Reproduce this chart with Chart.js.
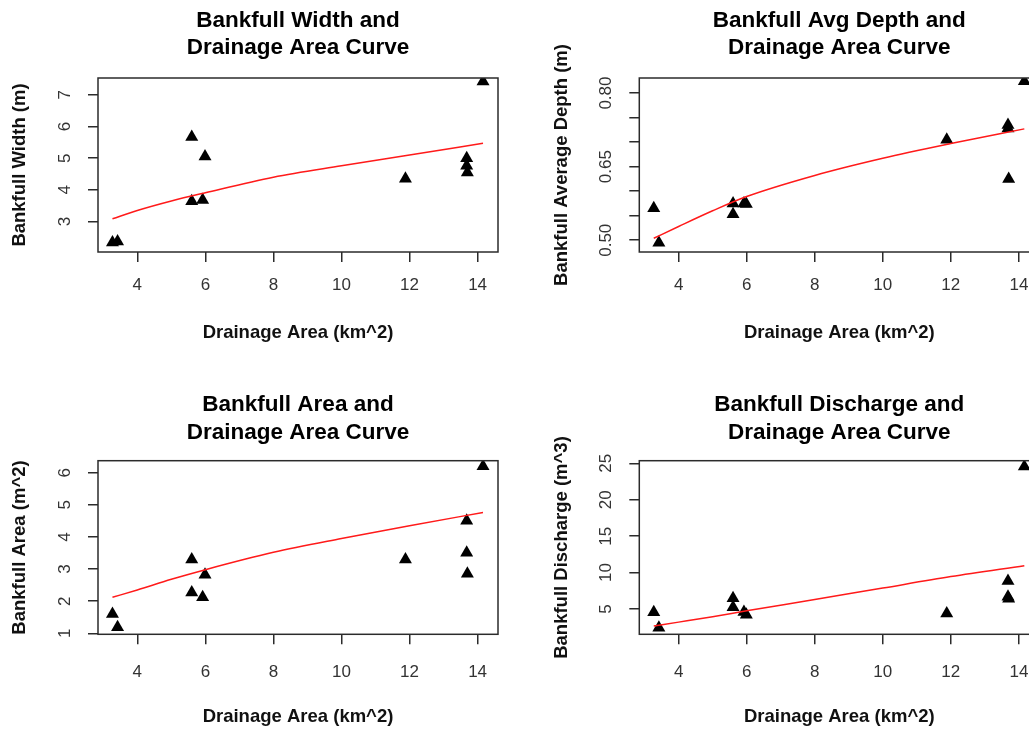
<!DOCTYPE html>
<html>
<head>
<meta charset="utf-8">
<script src="https://cdn.jsdelivr.net/npm/chart.js@4/dist/chart.umd.min.js"></script>
<style>
  html, body { margin: 0; padding: 0; background: #fff; }
  body { width: 1029px; height: 730px; overflow: hidden; position: relative; }
  canvas { position: absolute; }
</style>
</head>
<body>
<canvas id="widthChart" width="514" height="365" style="left:0;top:0"></canvas>
<canvas id="depthChart" width="540" height="365" style="left:514px;top:0"></canvas>
<canvas id="areaChart" width="514" height="360" style="left:0;top:370px"></canvas>
<canvas id="dischargeChart" width="540" height="360" style="left:514px;top:370px"></canvas>
<script>
// measured sites (drainage area in km^2)
const drainageArea = [3.27, 3.42, 5.6, 5.6, 5.92, 5.99, 11.88, 13.68, 13.68, 13.7, 14.16];
const bankfullWidth = [2.34, 2.37, 5.67, 3.64, 3.68, 5.05, 4.35, 5.0, 4.76, 4.55, 7.42];
const bankfullDepth = [0.565, 0.495, 0.575, 0.553, 0.575, 0.574, 0.705, 0.735, 0.728, 0.625, 0.824];
const bankfullArea = [1.6, 1.19, 3.3, 2.27, 2.12, 2.82, 3.3, 4.5, 3.51, 2.85, 6.2];
const bankfullDischarge = [4.55, 2.43, 6.47, 5.23, 4.6, 4.2, 4.4, 8.85, 6.69, 6.4, 24.55];

// fitted regional curves
const curveArea = [3.27, 4, 5, 6, 8, 10, 12, 14.16];
const widthCurve = [3.09, 3.35, 3.65, 3.91, 4.4, 4.76, 5.1, 5.47];
const depthCurve = [0.504, 0.528, 0.56, 0.589, 0.632, 0.667, 0.697, 0.727];
const areaCurve = [2.12, 2.35, 2.68, 2.98, 3.52, 3.95, 4.35, 4.76];
const dischargeCurve = [2.66, 3.2, 3.95, 4.75, 6.3, 7.88, 9.45, 10.95];

const xTicks = [4, 6, 8, 10, 12, 14];
const widthTicks = [3, 4, 5, 6, 7];
const depthTicks = [0.5, 0.55, 0.6, 0.65, 0.7, 0.75, 0.8];
const depthTickLabels = ['0.50', '', '', '0.65', '', '', '0.80'];
const areaTicks = [1, 2, 3, 4, 5, 6];
const dischargeTicks = [5, 10, 15, 20, 25];

const FONT = '"Liberation Sans", Arial, sans-serif';
const INK = '#2b2b2b';
Chart.defaults.font.family = FONT;
Chart.defaults.animation = false;

function framePlugin(titleLines, baselines, yLabels) {
  return {
    id: 'rframe',
    afterDatasetsDraw(chart) {
      const a = chart.chartArea;
      const ctx = chart.ctx;
      ctx.save();
      ctx.strokeStyle = INK;
      ctx.lineWidth = 1.5;
      ctx.strokeRect(a.left, a.top, a.right - a.left, a.bottom - a.top);
      ctx.restore();
    },
    afterDraw(chart) {
      const a = chart.chartArea;
      const ctx = chart.ctx;
      const cx = (a.left + a.right) / 2;
      ctx.save();
      ctx.fillStyle = '#000';
      ctx.font = 'bold 22.5px ' + FONT;
      ctx.textAlign = 'center';
      ctx.textBaseline = 'alphabetic';
      titleLines.forEach((t, i) => ctx.fillText(t, cx, baselines[i]));

      // y tick labels run along the axis, like R's default las=0
      const y = chart.scales.y;
      ctx.fillStyle = '#333';
      ctx.font = '17px ' + FONT;
      ctx.textBaseline = 'middle';
      y.ticks.forEach((t, i) => {
        const label = yLabels[i];
        if (!label) return;
        ctx.save();
        ctx.translate(a.left - 33, y.getPixelForValue(t.value));
        ctx.rotate(-Math.PI / 2);
        ctx.fillText(label, 0, 0);
        ctx.restore();
      });
      ctx.restore();
    }
  };
}

function makePanel(id, cfg) {
  const points = drainageArea.map((x, i) => ({ x, y: cfg.values[i] }));
  const curve = curveArea.map((x, i) => ({ x, y: cfg.curve[i] }));
  const canvas = document.getElementById(id);
  const H = canvas.height;
  return new Chart(canvas, {
    type: 'scatter',
    data: {
      datasets: [
        {
          data: curve, showLine: true, borderColor: '#ff1a1a', borderWidth: 1.5,
          pointRadius: 0, cubicInterpolationMode: 'monotone', clip: 0
        },
        {
          data: points, pointStyle: 'triangle', pointRadius: 7.5, pointHoverRadius: 7.5,
          backgroundColor: '#000', borderColor: '#000', borderWidth: 0, clip: 0
        }
      ]
    },
    options: {
      responsive: false,
      layout: { padding: { left: 0, top: cfg.box.top, right: canvas.width - cfg.box.right, bottom: 0 } },
      plugins: { legend: { display: false }, tooltip: { enabled: false } },
      events: [],
      scales: {
        x: {
          type: 'linear', position: 'bottom', min: 2.845, max: 14.6,
          afterBuildTicks: s => { s.ticks = xTicks.map(v => ({ value: v })); },
          afterFit: s => { s.height = H - cfg.box.bottom; },
          grid: { drawOnChartArea: false, drawTicks: true, tickLength: 10, color: INK, lineWidth: 1.5 },
          border: { display: false },
          ticks: { color: '#333', font: { size: 17, lineHeight: 1.2 }, padding: cfg.xTickPad, maxRotation: 0, autoSkip: false },
          title: {
            display: true, text: 'Drainage Area (km^2)', color: '#111',
            font: { size: 18.5, weight: 'bold', lineHeight: 1 }, padding: { top: 0, bottom: cfg.xTitlePad }
          }
        },
        y: {
          type: 'linear', position: 'left', min: cfg.yMin, max: cfg.yMax,
          afterBuildTicks: s => { s.ticks = cfg.yTicks.map(v => ({ value: v })); },
          afterFit: s => { s.width = cfg.box.left; },
          grid: { drawOnChartArea: false, drawTicks: true, tickLength: 10, color: INK, lineWidth: 1.5 },
          border: { display: false },
          ticks: { display: false },
          title: {
            display: true, text: cfg.yTitle, color: '#111',
            font: { size: 18.5, weight: 'bold', lineHeight: 1 }, padding: { top: cfg.yTitlePad, bottom: 0 }
          }
        }
      }
    },
    plugins: [framePlugin(cfg.title, cfg.titleBaselines, cfg.yLabels)]
  });
}

makePanel('widthChart', {
  values: bankfullWidth, curve: widthCurve,
  box: { left: 98, top: 78, right: 498, bottom: 252 },
  yMin: 2.04, yMax: 7.53, yTicks: widthTicks, yLabels: widthTicks.map(String),
  yTitle: 'Bankfull Width (m)', yTitlePad: 10.75, xTickPad: 13.4, xTitlePad: 23,
  title: ['Bankfull Width and', 'Drainage Area Curve'], titleBaselines: [27, 54]
});

makePanel('depthChart', {
  values: bankfullDepth, curve: depthCurve,
  box: { left: 125.3, top: 78, right: 525.3, bottom: 252 },
  yMin: 0.476, yMax: 0.8307, yTicks: depthTicks, yLabels: depthTickLabels,
  yTitle: 'Bankfull Average Depth (m)', yTitlePad: 38.75, xTickPad: 13.4, xTitlePad: 23,
  title: ['Bankfull Avg Depth and', 'Drainage Area Curve'], titleBaselines: [27, 54]
});

makePanel('areaChart', {
  values: bankfullArea, curve: areaCurve,
  box: { left: 98, top: 90.7, right: 498, bottom: 264.3 },
  yMin: 0.969, yMax: 6.373, yTicks: areaTicks, yLabels: areaTicks.map(String),
  yTitle: 'Bankfull Area (m^2)', yTitlePad: 10.75, xTickPad: 17.5, xTitlePad: 4,
  title: ['Bankfull Area and', 'Drainage Area Curve'], titleBaselines: [40.7, 69]
});

makePanel('dischargeChart', {
  values: bankfullDischarge, curve: dischargeCurve,
  box: { left: 125.3, top: 90.7, right: 525.3, bottom: 264.3 },
  yMin: 1.53, yMax: 25.36, yTicks: dischargeTicks, yLabels: dischargeTicks.map(String),
  yTitle: 'Bankfull Discharge (m^3)', yTitlePad: 38.75, xTickPad: 17.5, xTitlePad: 4,
  title: ['Bankfull Discharge and', 'Drainage Area Curve'], titleBaselines: [40.7, 69]
});
</script>
</body>
</html>
